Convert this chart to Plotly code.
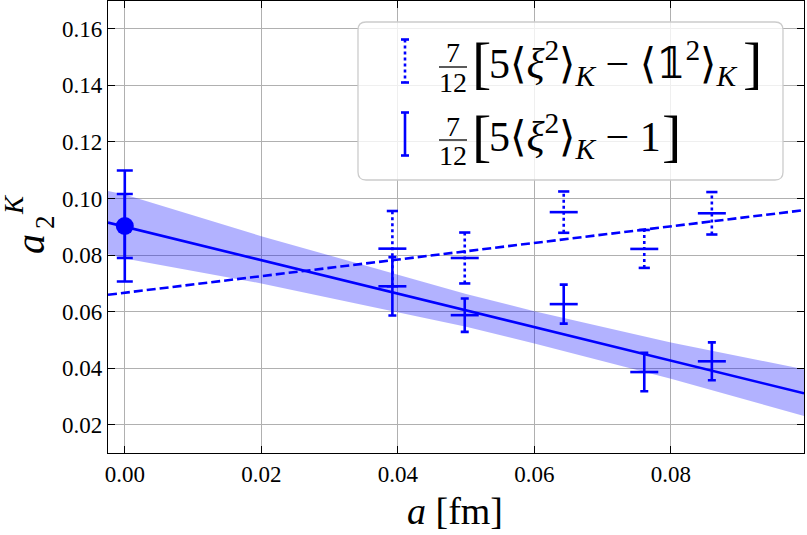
import plotly.graph_objects as go

# ---------------- data ----------------
a_fm = [0.0392, 0.0498, 0.0643, 0.0761, 0.0860]
# 7/12 [5<xi^2>_K - <1^2>_K]   (dotted error bars)
sub_vals = [0.0823, 0.0790, 0.0952, 0.0822, 0.0948]
sub_errs = [0.0133, 0.0090, 0.0073, 0.0067, 0.0075]
# 7/12 [5<xi^2>_K - 1]          (solid error bars)
one_vals = [0.0690, 0.0588, 0.0627, 0.0387, 0.0425]
one_errs = [0.0103, 0.0059, 0.0069, 0.0068, 0.0067]
# continuum extrapolation
cont_x = [0.0]
cont_y = [0.0903]
cont_err_stat = [0.0113]
cont_err_tot = [0.0196]
# fit lines
fit_x = [-0.00246, 0.0995]
fit_one = [0.0915, 0.0312]
fit_sub = [0.0660, 0.0959]
# fit error band (solid fit)
band_x = [-0.00246, 0.0, 0.02, 0.04, 0.05, 0.06, 0.08, 0.0995]
band_hi = [0.1027, 0.1014, 0.0867, 0.0730, 0.0663, 0.0602, 0.0491, 0.0397]
band_lo = [0.0803, 0.0788, 0.0700, 0.0598, 0.0547, 0.0488, 0.0363, 0.0232]

x_ticks = [0.0, 0.02, 0.04, 0.06, 0.08]
y_ticks = [0.02, 0.04, 0.06, 0.08, 0.10, 0.12, 0.14, 0.16]
x_range = [-0.00246, 0.0995]
y_range = [0.0101, 0.1698]

legend_rows = [
    ("5⟨<i>ξ</i><sup>2</sup>⟩<sub><i>K</i></sub> − ⟨𝟙<sup>2</sup>⟩<sub><i>K</i></sub>", "dot"),
    ("5⟨<i>ξ</i><sup>2</sup>⟩<sub><i>K</i></sub> − 1", "solid"),
]

BLUE = "#0000ff"
FONT = "'Liberation Serif', 'Times New Roman', Tinos, 'DejaVu Serif', serif"

W_FIG, H_FIG = 807, 535
ML, MR, MT, MB = 108, 3, 1, 82
PW = W_FIG - ML - MR
PH = H_FIG - MT - MB
LW = 2.6


def PX(x):
    return (x - ML) / PW


def PY(y):
    return (MT + PH - y) / PH


fig = go.Figure()

# band
fig.add_trace(go.Scatter(
    x=band_x + band_x[::-1], y=band_hi + band_lo[::-1],
    fill="toself", fillcolor="rgba(0,0,255,0.3)", line=dict(width=0),
    mode="lines", hoverinfo="skip", showlegend=False))

# fit lines
fig.add_trace(go.Scatter(x=fit_x, y=fit_sub, mode="lines",
                         line=dict(color=BLUE, width=LW, dash="9px,4px"),
                         showlegend=False))
fig.add_trace(go.Scatter(x=fit_x, y=fit_one, mode="lines",
                         line=dict(color=BLUE, width=LW), showlegend=False))

# dotted error bars (drawn as dotted segments + caps)
seg_x, seg_y = [], []
for xv, yv, ev in zip(a_fm, sub_vals, sub_errs):
    seg_x += [xv, xv, None]
    seg_y += [yv - ev, yv + ev, None]
fig.add_trace(go.Scatter(x=seg_x, y=seg_y, mode="lines",
                         line=dict(color=BLUE, width=LW, dash="3px,3px"),
                         showlegend=False))
cap_x = a_fm + a_fm
cap_y = [v - e for v, e in zip(sub_vals, sub_errs)] + [v + e for v, e in zip(sub_vals, sub_errs)]
fig.add_trace(go.Scatter(x=cap_x, y=cap_y, mode="markers",
                         marker=dict(symbol="line-ew", size=8,
                                     line=dict(color=BLUE, width=LW)),
                         showlegend=False))
fig.add_trace(go.Scatter(x=a_fm, y=sub_vals, mode="markers",
                         marker=dict(symbol="line-ew", size=20,
                                     line=dict(color=BLUE, width=LW)),
                         showlegend=False))

# solid error bars
fig.add_trace(go.Scatter(x=a_fm, y=one_vals, mode="markers",
                         marker=dict(symbol="line-ew", size=20,
                                     line=dict(color=BLUE, width=LW)),
                         error_y=dict(type="data", array=one_errs, color=BLUE,
                                      thickness=LW, width=4),
                         showlegend=False))

# continuum point
fig.add_trace(go.Scatter(x=cont_x, y=cont_y, mode="markers",
                         marker=dict(symbol="circle", size=1, color=BLUE),
                         error_y=dict(type="data", array=cont_err_tot, color=BLUE,
                                      thickness=LW, width=8),
                         showlegend=False))
fig.add_trace(go.Scatter(x=cont_x, y=cont_y, mode="markers",
                         marker=dict(symbol="circle", size=18, color=BLUE),
                         error_y=dict(type="data", array=cont_err_stat, color=BLUE,
                                      thickness=LW, width=8),
                         showlegend=False))

# ---------------- custom legend ----------------
shapes = []
x0, x1, y0, y1, r = 358, 783, 22, 180, 8


def pt(x, y):
    return f"{PX(x):.6f},{PY(y):.6f}"


path = (f"M {pt(x0 + r, y0)} L {pt(x1 - r, y0)} Q {pt(x1, y0)} {pt(x1, y0 + r)} "
        f"L {pt(x1, y1 - r)} Q {pt(x1, y1)} {pt(x1 - r, y1)} "
        f"L {pt(x0 + r, y1)} Q {pt(x0, y1)} {pt(x0, y1 - r)} "
        f"L {pt(x0, y0 + r)} Q {pt(x0, y0)} {pt(x0 + r, y0)} Z")
shapes.append(dict(type="path", xref="paper", yref="paper", path=path,
                   fillcolor="rgba(255,255,255,0.8)",
                   line=dict(color="#cccccc", width=1.3), layer="above"))

annotations = []
row_centres = [61, 134]
for (txt, style), yc in zip(legend_rows, row_centres):
    top, bot = yc - 21.5, yc + 21.5
    shapes.append(dict(type="line", xref="paper", yref="paper",
                       x0=PX(405), x1=PX(405), y0=PY(top), y1=PY(bot),
                       line=dict(color=BLUE, width=LW,
                                 dash="3px,3px" if style == "dot" else "solid"),
                       layer="above"))
    for yy in (top, bot):
        shapes.append(dict(type="line", xref="paper", yref="paper",
                           x0=PX(401), x1=PX(409), y0=PY(yy), y1=PY(yy),
                           line=dict(color=BLUE, width=LW), layer="above"))
    # fraction 7/12
    bar_y = yc + 6
    shapes.append(dict(type="line", xref="paper", yref="paper",
                       x0=PX(439), x1=PX(467), y0=PY(bar_y), y1=PY(bar_y),
                       line=dict(color="black", width=1.3), layer="above"))
    annotations.append(dict(text="7", xref="paper", yref="paper",
                            x=PX(453), y=PY(bar_y - 14), xanchor="center", yanchor="middle",
                            showarrow=False, font=dict(family=FONT, size=28, color="black")))
    annotations.append(dict(text="12", xref="paper", yref="paper",
                            x=PX(453), y=PY(bar_y + 15), xanchor="center", yanchor="middle",
                            showarrow=False, font=dict(family=FONT, size=28, color="black")))
    annotations.append(dict(text="[", xref="paper", yref="paper",
                            x=PX(470), y=PY(yc + 2), xanchor="left", yanchor="middle",
                            showarrow=False, font=dict(family=FONT, size=58, color="black")))
    annotations.append(dict(text=txt, xref="paper", yref="paper",
                            x=PX(487), y=PY(yc + 2), xanchor="left", yanchor="middle",
                            showarrow=False, font=dict(family=FONT, size=42, color="black")))
ann_close = [752, 671]
for xc, yc in zip(ann_close, row_centres):
    annotations.append(dict(text="]", xref="paper", yref="paper",
                            x=PX(xc), y=PY(yc + 2), xanchor="center", yanchor="middle",
                            showarrow=False, font=dict(family=FONT, size=58, color="black")))

# axis titles
annotations.append(dict(text="<i>a</i> [fm]", xref="paper", yref="paper",
                        x=PX(455), y=PY(511), xanchor="center", yanchor="middle",
                        showarrow=False, font=dict(family=FONT, size=38, color="black")))
annotations.append(dict(text="<i>a</i>", xref="paper", yref="paper",
                        x=PX(30), y=PY(244), xanchor="center", yanchor="middle",
                        textangle=-90, showarrow=False,
                        font=dict(family=FONT, size=40, color="black")))
annotations.append(dict(text="2", xref="paper", yref="paper",
                        x=PX(45), y=PY(222), xanchor="center", yanchor="middle",
                        textangle=-90, showarrow=False,
                        font=dict(family=FONT, size=27, color="black")))
annotations.append(dict(text="<i>K</i>", xref="paper", yref="paper",
                        x=PX(14), y=PY(205), xanchor="center", yanchor="middle",
                        textangle=-90, showarrow=False,
                        font=dict(family=FONT, size=27, color="black")))

axis_common = dict(
    ticks="inside", ticklen=7, tickwidth=1.3, tickcolor="black",
    showline=True, linecolor="black", linewidth=1.3, mirror="allticks",
    showgrid=True, gridcolor="#b0b0b0", gridwidth=1.3, zeroline=False,
    tickfont=dict(family=FONT, size=23, color="black"),
)

fig.update_layout(
    width=W_FIG, height=H_FIG,
    margin=dict(l=ML, r=MR, t=MT, b=MB, pad=0),
    paper_bgcolor="white", plot_bgcolor="white",
    showlegend=False,
    font=dict(family=FONT, color="black"),
    xaxis=dict(range=x_range, tickvals=x_ticks,
               ticktext=[f"{v:.2f}" for v in x_ticks], **axis_common),
    yaxis=dict(range=y_range, tickvals=y_ticks,
               ticktext=[f"{v:.2f}" for v in y_ticks], **axis_common),
    shapes=shapes, annotations=annotations,
)

fig.write_html("out.html")
